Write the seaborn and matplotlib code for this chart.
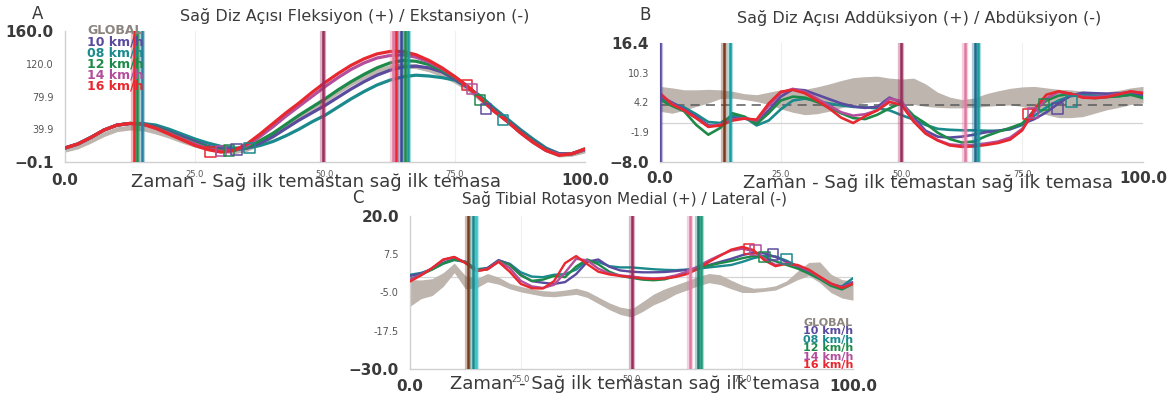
import numpy as np
import pandas as pd
import matplotlib
matplotlib.use("Agg")
import matplotlib.pyplot as plt
import seaborn as sns

sns.set_theme(style="white")
plt.rcParams['font.family'] = ['DejaVu Sans']

# ---------------- data ----------------
pct = [0, 2.5, 5, 7.5, 10, 12.5, 15, 17.5, 20, 22.5, 25, 27.5, 30, 32.5, 35, 37.5, 40,
       42.5, 45, 47.5, 50, 52.5, 55, 57.5, 60, 62.5, 65, 67.5, 70, 72.5, 75, 77.5, 80,
       82.5, 85, 87.5, 90, 92.5, 95, 97.5, 100]

series_names = ["GLOBAL", "10 km/h", "08 km/h", "12 km/h", "14 km/h", "16 km/h"]
series_colors = ["#8c847e", "#5b4b9e", "#1a8a8c", "#1e8a4a", "#b44e9c", "#e8282f"]
band_color = "#bdb5ae"

x_ticks = [0.0, 25.0, 50.0, 75.0, 100.0]
x_tick_labels = ["0.0", "25.0", "50.0", "75.0", "100.0"]
x_label = "Zaman - Sağ ilk temastan sağ ilk temasa"

# Panel A: knee flexion / extension
a_title = "Sağ Diz Açısı Fleksiyon (+) / Ekstansiyon (-)"
a_yticks = [-0.1, 39.9, 79.9, 120.0, 160.0]
a_ylabels = ["\u22120.1", "39.9", "79.9", "120.0", "160.0"]
a_global_lo = [12, 16, 23, 31, 37, 39, 38, 34, 29, 23, 18, 14, 11, 10, 13, 20, 29, 40, 51, 62,
               72, 83, 93, 101, 108, 113, 115, 114, 110, 104, 96, 86, 73, 60, 47, 34, 22, 12, 6, 7, 11]
a_global_hi = [18, 22, 29, 37, 43, 45, 44, 40, 35, 29, 24, 20, 17, 16, 19, 26, 35, 46, 57, 68,
               78, 89, 99, 107, 114, 119, 121, 120, 116, 110, 102, 92, 79, 66, 53, 40, 28, 18, 12, 13, 17]
a_10 = [17, 22, 30, 39, 45, 47, 46, 43, 37, 31, 25, 19, 16, 15, 17, 23, 31, 41, 51, 60,
        69, 79, 89, 98, 106, 112, 116, 117, 115, 110, 101, 91, 77, 64, 51, 38, 26, 16, 10, 10, 15]
a_08 = [17, 22, 30, 39, 45, 47, 47, 45, 40, 34, 28, 23, 19, 17, 17, 20, 25, 32, 40, 49,
        57, 67, 77, 86, 94, 100, 104, 106, 105, 103, 100, 91, 80, 66, 53, 40, 28, 17, 10, 10, 16]
a_12 = [17, 22, 30, 39, 45, 47, 46, 42, 36, 29, 23, 18, 14, 14, 18, 26, 35, 46, 57, 67,
        77, 88, 98, 107, 115, 121, 124, 123, 119, 112, 103, 92, 78, 63, 50, 37, 25, 15, 9, 10, 15]
a_14 = [17, 22, 30, 39, 45, 47, 46, 41, 35, 28, 22, 16, 13, 14, 20, 31, 43, 56, 68, 80,
        92, 103, 113, 121, 127, 130, 131, 128, 122, 114, 104, 92, 77, 62, 50, 36, 24, 14, 9, 10, 15]
a_16 = [17, 22, 30, 39, 45, 47, 46, 41, 34, 27, 20, 15, 12, 14, 22, 34, 47, 60, 72, 85,
        97, 108, 118, 126, 132, 135, 135, 131, 124, 115, 104, 92, 77, 62, 50, 36, 24, 14, 8, 10, 16]
a_events = [13.3, 13.9, 14.8, 49.7, 63.1, 63.6, 64.6, 65.3, 65.9]
a_event_colors = ["#e8282f", "#1e8a4a", "#2a7fa0", "#9b2c5c", "#e07aa2", "#e8282f", "#3a4a9e", "#1e8a4a", "#1a9ba0"]
a_mark_x = [77.3, 78.3, 79.8, 81.0, 84.2, 28.0, 30.0, 31.5, 33.0, 35.5]
a_mark_y = [94, 89, 76, 65, 51, 12, 13, 14, 15, 17]
a_mark_series = ["16 km/h", "14 km/h", "12 km/h", "10 km/h", "08 km/h",
                 "16 km/h", "14 km/h", "12 km/h", "10 km/h", "08 km/h"]

# Panel B: knee adduction / abduction
b_title = "Sağ Diz Açısı Addüksiyon (+) / Abdüksiyon (-)"
b_yticks = [-8.0, -1.9, 4.2, 10.3, 16.4]
b_ylabels = ["\u22128.0", "-1.9", "4.2", "10.3", "16.4"]
b_ref = 3.6
b_global_lo = [2.4, 2.0, 2.6, 3.4, 4.1, 5.0, 5.1, 4.8, 4.4, 3.8, 2.9, 2.2, 1.7, 1.9, 2.4, 3.1, 3.7,
               4.2, 4.4, 4.3, 4.1, 3.8, 3.4, 3.2, 3.1, 3.1, 3.2, 3.4, 3.6, 3.7, 3.4, 2.5, 1.7,
               1.1, 1.1, 1.3, 2.0, 2.7, 3.2, 3.8, 4.1]
b_global_hi = [7.5, 7.2, 6.8, 6.8, 6.9, 6.8, 6.5, 6.0, 5.8, 6.3, 6.8, 6.8, 6.9, 7.4, 8.0, 8.7, 9.3,
               9.5, 9.6, 9.2, 9.0, 9.2, 8.0, 6.3, 5.3, 4.8, 5.1, 6.0, 6.6, 7.1, 7.4, 7.5, 7.2,
               6.9, 6.8, 6.5, 6.4, 6.4, 6.7, 7.2, 7.5]
b_10 = [5.5, 4.2, 2.8, 1.3, -0.5, -0.6, 1.0, 0.9, 0.3, 2.6, 5.4, 6.9, 6.7, 5.8, 4.9, 4.0, 3.4,
        3.1, 3.3, 5.2, 4.2, 1.1, -1.6, -2.8, -3.0, -2.8, -2.4, -1.9, -1.6, -1.2, -0.2, 0.8, 2.2,
        4.0, 5.6, 6.2, 6.1, 6.0, 6.1, 6.2, 5.8]
b_08 = [5.0, 4.0, 3.2, 1.8, 0.2, 0.0, 1.5, 1.2, -0.5, 0.5, 2.8, 4.6, 5.0, 4.5, 4.0, 3.6, 3.3,
        3.2, 3.0, 2.6, 1.6, 0.7, -0.4, -1.2, -1.4, -1.5, -1.5, -1.6, -1.6, -1.3, -0.4, 1.5, 3.2,
        4.6, 5.5, 5.8, 5.6, 5.4, 5.5, 5.8, 5.4]
b_12 = [4.8, 3.5, 2.4, -0.4, -2.4, -1.0, 2.0, 1.3, -0.2, 2.0, 4.6, 5.4, 5.2, 4.3, 3.2, 2.0, 1.0,
        0.8, 1.7, 3.0, 4.1, 1.5, -0.1, -2.0, -3.3, -4.0, -3.8, -2.7, -1.8, -1.0, -0.1, 2.6, 4.6,
        5.6, 6.0, 5.4, 5.1, 5.3, 5.5, 5.8, 5.1]
b_14 = [6.0, 3.9, 2.6, 1.0, -0.7, -0.3, 0.7, 1.0, 0.5, 3.5, 6.2, 7.0, 6.4, 5.0, 3.6, 2.2, 1.5,
        1.8, 2.6, 5.0, 4.5, 0.6, -2.0, -3.5, -4.4, -4.6, -4.5, -4.2, -3.8, -3.0, -1.2, 2.2, 5.0,
        6.4, 6.0, 5.4, 5.3, 5.5, 6.0, 6.4, 6.2]
b_16 = [6.1, 3.8, 2.6, 1.0, -0.8, -0.5, 0.5, 0.9, 0.7, 4.0, 6.4, 6.8, 6.1, 4.6, 3.0, 1.1, 0.0,
        1.4, 2.6, 4.3, 3.7, 0.3, -2.2, -3.6, -4.6, -4.9, -4.8, -4.5, -4.1, -3.4, -1.5, 2.8, 5.8,
        6.5, 6.0, 5.2, 5.1, 5.3, 5.9, 6.5, 6.1]
b_events = [0.0, 13.3, 14.4, 49.9, 63.1, 65.2, 65.9]
b_event_colors = ["#5b4b9e", "#7a3b1e", "#1a9ba0", "#9b2c5c", "#e07aa2", "#1f6b8e", "#1a9ba0"]
b_mark_x = [76.2, 77.2, 79.5, 82.3, 85.2]
b_mark_y = [1.8, 2.0, 3.8, 3.0, 4.4]
b_mark_series = ["16 km/h", "14 km/h", "12 km/h", "10 km/h", "08 km/h"]

# Panel C: tibial rotation
c_title = "Sağ Tibial Rotasyon Medial (+) / Lateral (-)"
c_yticks = [-30.0, -17.5, -5.0, 7.5, 20.0]
c_ylabels = ["\u221230.0", "-17.5", "-5.0", "7.5", "20.0"]
c_global_lo = [-9.5, -7.0, -6.0, -3.0, 1.5, -3.8, -3.5, -1.5, -2.3, -3.8, -4.8, -5.5, -6.2, -6.4,
               -6.0, -5.6, -6.6, -8.6, -10.6, -12.2, -13.0, -11.2, -9.0, -7.5, -5.5, -4.2, -2.8,
               -1.8, -2.4, -3.8, -5.0, -5.0, -4.6, -4.2, -2.6, -0.8, 0.5, -1.8, -5.0, -6.8, -7.5]
c_global_hi = [-0.8, -0.9, -0.5, 1.5, 4.6, 0.5, -0.5, 1.2, 0.0, -2.0, -3.0, -3.8, -4.4, -4.6,
               -4.2, -3.6, -4.6, -6.5, -8.4, -9.8, -10.4, -8.0, -5.5, -3.8, -2.5, -1.2, 0.2,
               1.2, 0.8, -1.0, -2.6, -3.6, -3.4, -2.8, -1.2, 2.0, 4.8, 5.0, 1.0, -0.8, -1.2]
c_10 = [0.4, 1.2, 2.7, 4.7, 6.0, 5.0, 2.2, 3.0, 5.6, 4.2, 0.8, -1.3, -1.8, -2.2, -1.6, 1.0, 5.0,
        5.8, 3.4, 2.2, 1.8, 1.6, 1.6, 1.7, 2.0, 2.4, 3.0, 4.0, 5.0, 6.0, 7.2, 8.0, 7.8, 6.6, 5.0,
        3.4, 1.6, -0.4, -2.2, -3.2, -1.6]
c_08 = [0.8, 1.4, 2.6, 4.4, 5.6, 5.0, 2.6, 3.0, 5.4, 4.4, 1.6, 0.2, 0.0, 0.8, 1.0, 2.5, 5.5,
        5.0, 3.6, 3.2, 3.2, 2.9, 2.6, 2.4, 2.3, 2.5, 2.8, 3.2, 3.6, 4.0, 5.0, 6.2, 7.0, 6.8, 5.4,
        3.6, 1.6, -0.4, -2.6, -3.0, -0.3]
c_12 = [-0.6, 0.8, 2.5, 4.5, 5.8, 5.0, 2.4, 2.6, 5.3, 4.0, 0.6, -1.2, -0.8, 0.4, 0.0, 3.5, 5.8,
        4.2, 1.8, 0.4, -0.2, -0.8, -1.0, -0.7, 0.3, 1.6, 2.8, 3.8, 4.6, 5.3, 6.2, 6.9, 6.5, 5.2,
        4.0, 2.8, 1.2, -0.6, -2.8, -4.0, -2.2]
c_14 = [-0.8, 0.8, 3.0, 5.6, 6.6, 4.8, 2.0, 2.6, 5.2, 3.0, -1.2, -3.0, -3.5, -2.5, 1.5, 6.0, 5.5,
        2.8, 1.2, 0.6, 0.2, -0.2, -0.4, -0.2, 0.6, 1.8, 3.5, 5.5, 7.2, 8.7, 9.3, 8.6, 6.0, 4.0,
        4.5, 3.8, 2.2, 0.0, -2.2, -3.3, -2.0]
c_16 = [-1.4, 0.6, 3.0, 5.8, 6.6, 4.6, 2.0, 2.6, 5.0, 1.8, -2.2, -3.6, -3.7, -1.3, 4.6, 6.9, 4.3,
        1.8, 0.9, 0.4, 0.0, -0.4, -0.6, -0.4, 0.1, 1.0, 2.7, 5.0, 7.0, 9.0, 9.9, 8.9, 5.5, 3.6,
        4.4, 4.0, 2.5, 0.2, -2.0, -3.5, -2.2]
c_events = [13.1, 14.3, 14.8, 50.2, 63.3, 65.0, 65.8]
c_event_colors = ["#7a3b1e", "#1a8a8c", "#3fc0c8", "#9b2c5c", "#e07aa2", "#1f7b6c", "#1e9a7a"]
c_mark_x = [76.5, 78.0, 80.0, 82.0, 85.0]
c_mark_y = [9.2, 9.0, 6.6, 7.4, 5.9]
c_mark_series = ["16 km/h", "14 km/h", "12 km/h", "10 km/h", "08 km/h"]

# ---------------- figure ----------------
W, H = 1172, 393
fig = plt.figure(figsize=(W / 100, H / 100), dpi=100)
fig.patch.set_facecolor("white")
color_of = dict(zip(series_names, series_colors))


def px_axes(left, top, right, bottom):
    return fig.add_axes([left / W, 1 - bottom / H, (right - left) / W, (bottom - top) / H])


def ftext(x, y, s, **kw):
    fig.text(x / W, 1 - y / H, s, **kw)


def draw_panel(ax, ylim, yticks, ylabels, lo, hi, curves, events, ev_colors,
               mx, my, ms, lw, zero=False, ref=None, xbig_pad=5.0, xsmall_pad=2.0):
    ax.set_facecolor("white")
    for xv in x_ticks[1:-1]:
        ax.axvline(xv, color="#efefef", lw=0.8, zorder=0)
    if zero:
        ax.axhline(0, color="#d4d4d4", lw=0.9, zorder=1)
    ax.fill_between(pct, lo, hi, color=band_color, lw=0, zorder=2)
    if ref is not None:
        ax.axhline(ref, color="#5a5a5a", lw=1.1, ls=(0, (6, 4)), zorder=3)
    df = pd.concat([pd.DataFrame({"pct": pct, "value": v, "series": n})
                    for n, v in curves], ignore_index=True)
    order = [n for n, _ in curves]
    sns.lineplot(data=df, x="pct", y="value", hue="series", hue_order=order,
                 palette={n: color_of[n] for n in order}, linewidth=lw,
                 legend=False, sort=False, ax=ax, zorder=4)
    for xv, c in zip(events, ev_colors):
        ax.axvline(xv, color=c, lw=4.5, alpha=0.35, zorder=5)
        ax.axvline(xv, color=c, lw=1.8, zorder=6)
    sns.scatterplot(x=mx, y=my, hue=ms, palette=color_of, marker="s", s=55,
                    linewidth=1.1, legend=False, ax=ax, zorder=7)
    coll = ax.collections[-1]
    coll.set_edgecolors(coll.get_facecolors())
    coll.set_facecolors("none")
    ax.set_xlim(0, 100)
    ax.set_ylim(*ylim)
    ax.set_xticks(x_ticks)
    ax.set_xticklabels(x_tick_labels)
    ax.set_yticks(yticks)
    ax.set_yticklabels(ylabels)
    ax.set_xlabel("")
    ax.set_ylabel("")
    for s in ["top", "right"]:
        ax.spines[s].set_visible(False)
    for s in ["left", "bottom"]:
        ax.spines[s].set_color("#d0d0d0")
        ax.spines[s].set_linewidth(1.0)
    ax.tick_params(axis="both", length=4, width=0.8, color="#d0d0d0")
    n = len(yticks)
    for i, (t, lab) in enumerate(zip(ax.yaxis.get_major_ticks(), ax.get_yticklabels())):
        big = i in (0, n - 1)
        lab.set_fontsize(11 if big else 7)
        lab.set_fontweight("bold" if big else "normal")
        lab.set_color("#3a3a3a" if big else "#555555")
        t.set_pad(4)
    for i, (t, lab) in enumerate(zip(ax.xaxis.get_major_ticks(), ax.get_xticklabels())):
        big = i in (0, n - 1)
        lab.set_fontsize(11 if big else 6)
        lab.set_fontweight("bold" if big else "normal")
        lab.set_color("#3a3a3a" if big else "#555555")
        t.set_pad(xbig_pad if big else xsmall_pad)


draw_order = ["08 km/h", "10 km/h", "12 km/h", "14 km/h", "16 km/h"]

# Panel A
axA = px_axes(65, 31, 585, 162)
draw_panel(axA, (-0.1, 160.0), a_yticks, a_ylabels, a_global_lo, a_global_hi,
           list(zip(draw_order, [a_08, a_10, a_12, a_14, a_16])),
           a_events, a_event_colors, a_mark_x, a_mark_y, a_mark_series, lw=2.3,
           xbig_pad=4.0)

# Panel B
axB = px_axes(660, 43, 1143, 162)
draw_panel(axB, (-8.0, 16.4), b_yticks, b_ylabels, b_global_lo, b_global_hi,
           list(zip(draw_order, [b_08, b_10, b_12, b_14, b_16])),
           b_events, b_event_colors, b_mark_x, b_mark_y, b_mark_series, lw=1.9,
           zero=True, ref=b_ref, xbig_pad=2.5)

# Panel C
axC = px_axes(410, 216, 853, 369)
draw_panel(axC, (-30.0, 20.0), c_yticks, c_ylabels, c_global_lo, c_global_hi,
           list(zip(draw_order, [c_08, c_10, c_12, c_14, c_16])),
           c_events, c_event_colors, c_mark_x, c_mark_y, c_mark_series, lw=1.7,
           zero=True, xbig_pad=3.0, xsmall_pad=0.5)

# titles, panel letters, x labels
tkw = dict(color="#3a3a3a", ha="center", va="center")
ftext(355, 16, a_title, fontsize=11.5, **tkw)
ftext(919, 18, b_title, fontsize=11.5, **tkw)
ftext(624, 199, c_title, fontsize=11, **tkw)
ftext(38, 14, "A", fontsize=12, **tkw)
ftext(645, 15, "B", fontsize=12, **tkw)
ftext(358, 198, "C", fontsize=12, **tkw)
ftext(316, 182, x_label, fontsize=13, **tkw)
ftext(928, 183, x_label, fontsize=13, **tkw)
ftext(635, 384, x_label, fontsize=13, **tkw)

# legends
lkw = dict(fontweight="bold", va="center")
for i, (name, col) in enumerate(zip(series_names, series_colors)):
    ftext(87, 31 + i * 11.0, name, color=col, fontsize=9, ha="left", **lkw)
    ftext(853, 323 + i * 8.4, name, color=col, fontsize=8, ha="right", **lkw)

fig.savefig("out.png", dpi=100, facecolor="white")
